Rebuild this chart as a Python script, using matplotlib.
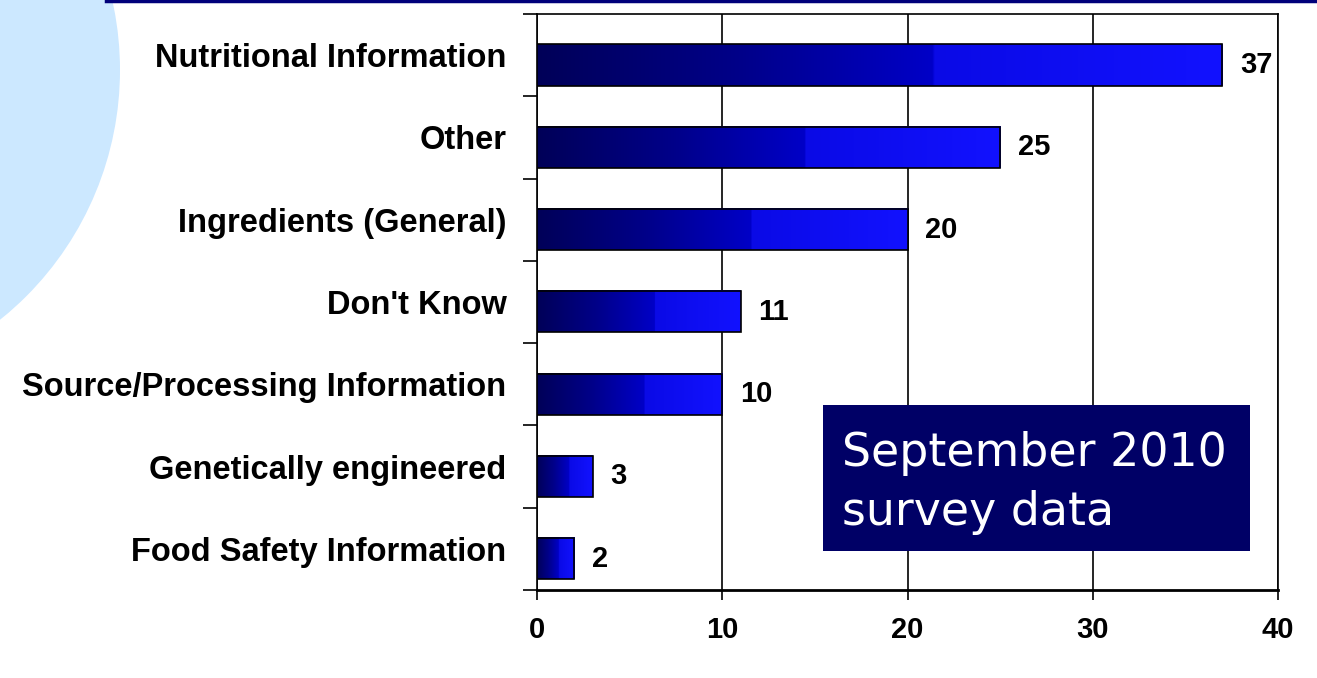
import numpy as np
import matplotlib.pyplot as plt
from matplotlib import font_manager
from matplotlib.colors import LinearSegmentedColormap
from matplotlib.patches import Circle, Rectangle
from matplotlib.lines import Line2D

categories = [
    "Nutritional Information",
    "Other",
    "Ingredients (General)",
    "Don't Know",
    "Source/Processing Information",
    "Genetically engineered",
    "Food Safety Information",
]
values = [37, 25, 20, 11, 10, 3, 2]
x_ticks = [0, 10, 20, 30, 40]
note = "September 2010\nsurvey data"

label_font = ["Liberation Sans", "DejaVu Sans"]

# numbers use a condensed face when one is installed
installed = {f.name for f in font_manager.fontManager.ttflist}
narrow = [n for n in ("Liberation Sans Narrow", "Arial Narrow",
                      "DejaVu Sans Condensed") if n in installed]
num_font = narrow[:1] + ["Liberation Sans", "DejaVu Sans"]
num_size = 22 if narrow else 21

# dark navy on the left to bright blue on the right, with a visible band step
bar_cmap = LinearSegmentedColormap.from_list(
    "bar_grad",
    [(0.0, "#000058"), (0.3, "#00008a"), (0.58, "#0000c8"),
     (0.58, "#0a0ae6"), (1.0, "#1212ff")],
)

W, H = 1317, 678
fig = plt.figure(figsize=(W / 100, H / 100), dpi=100)
fig.patch.set_facecolor("white")

# pale blue disc in the left margin and the thin rule across the top
bg = fig.add_axes([0, 0, 1, 1])
bg.set_xlim(0, W)
bg.set_ylim(H, 0)
bg.axis("off")
bg.add_patch(Circle((-200, 70), 320, facecolor="#cce8ff", edgecolor="none"))
bg.add_line(Line2D([106, W], [1, 1], color="#00007a", linewidth=2.5))

ax = fig.add_axes([537 / W, 88 / H, 741 / W, 576 / H])
ax.set_facecolor("none")

y = np.arange(len(categories))
shift = 0.12
height = 0.5
grad = np.linspace(0, 1, 256).reshape(1, -1)
for yi, v in zip(y, values):
    yc = yi + shift
    ax.imshow(grad, cmap=bar_cmap, aspect="auto", interpolation="bilinear",
              extent=[0, v, yc + height / 2, yc - height / 2], zorder=3)
ax.barh(y + shift, values, height=height, facecolor="none",
        edgecolor="black", linewidth=1.2, zorder=4)

for yi, v in zip(y, values):
    ax.text(v + 0.95, yi + shift, str(v), va="center", ha="left",
            fontsize=num_size, fontweight="bold", family=num_font, zorder=5)

ax.set_xlim(0, 40)
ax.set_ylim(len(categories) - 0.5, -0.5)
ax.set_xticks(x_ticks)
ax.set_xticklabels([str(t) for t in x_ticks], fontsize=num_size,
                   fontweight="bold", family=num_font)
ax.set_yticks(y)
ax.set_yticklabels(categories, fontsize=23.5, fontweight="bold",
                   family=label_font)
ax.set_yticks(np.arange(-0.5, len(categories)), minor=True)
ax.tick_params(axis="y", which="major", length=0, pad=22)
ax.tick_params(axis="y", which="minor", length=10, width=1.2, direction="out")
ax.tick_params(axis="x", length=7, width=1.2, direction="out", pad=12)

ax.grid(axis="x", color="black", linewidth=1.2, zorder=1)
ax.set_axisbelow(True)
for s in ax.spines.values():
    s.set_linewidth(1.2)
ax.spines["bottom"].set_linewidth(2)

# survey date box
fig.patches.append(Rectangle((823 / W, 127 / H), 427 / W, 146 / H,
                             transform=fig.transFigure, facecolor="#000066",
                             edgecolor="none", zorder=10))
fig.text(842 / W, 195 / H, note, color="white", fontsize=33,
         family=["DejaVu Sans"], va="center", ha="left",
         linespacing=1.4, zorder=11)

fig.savefig("out.png", dpi=100)
